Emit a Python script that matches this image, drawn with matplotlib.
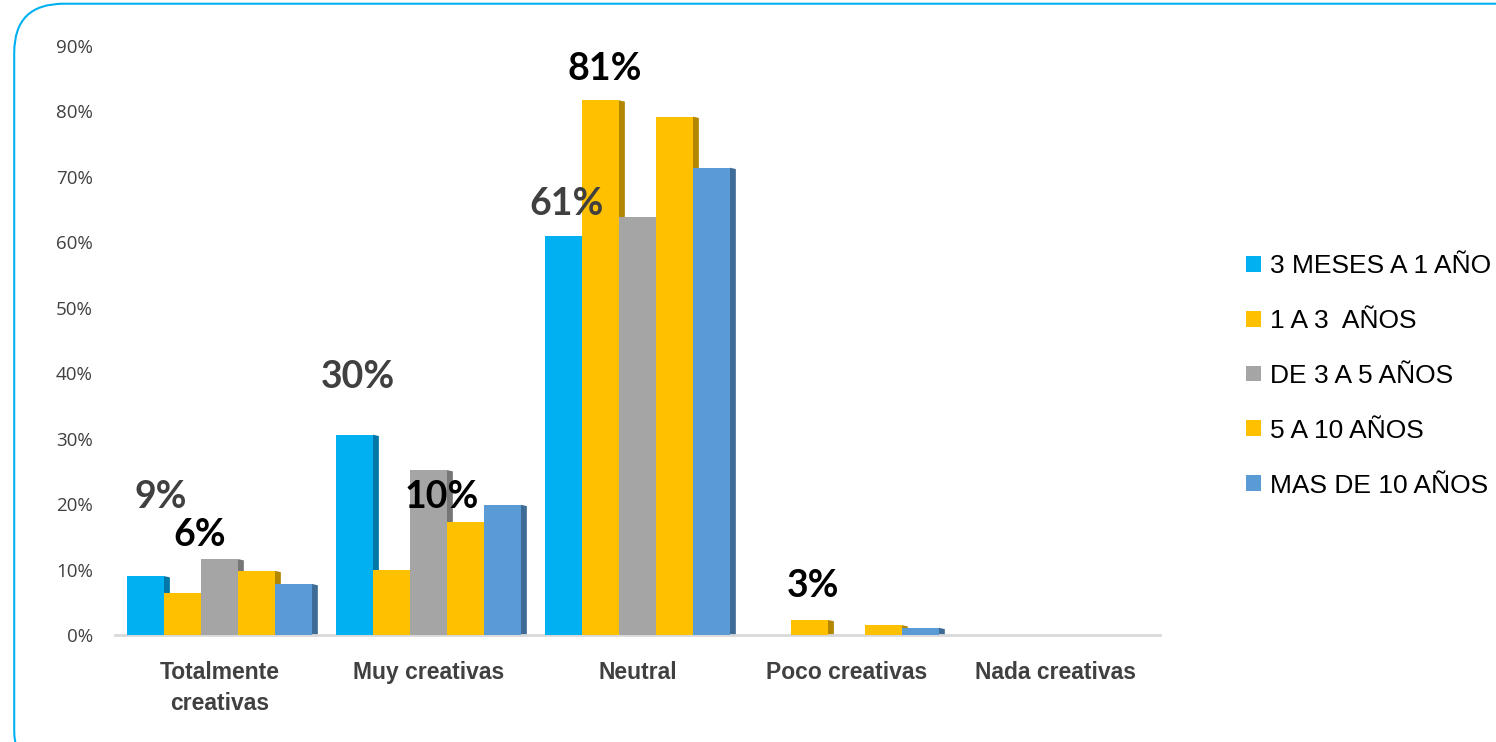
import matplotlib.pyplot as plt
from matplotlib.patches import FancyBboxPatch, Polygon
import numpy as np

# datos
categorias = ['Totalmente\ncreativas', 'Muy creativas', 'Neutral', 'Poco creativas', 'Nada creativas']
series = ['3 MESES A 1 AÑO', '1 A 3  AÑOS', 'DE 3 A 5 AÑOS', '5 A 10 AÑOS', 'MAS DE 10 AÑOS']
valores = [
    [0.090, 0.306, 0.610, 0.000, 0.000],
    [0.064, 0.099, 0.817, 0.023, 0.000],
    [0.116, 0.252, 0.638, 0.000, 0.000],
    [0.098, 0.173, 0.792, 0.015, 0.000],
    [0.078, 0.199, 0.714, 0.011, 0.000],
]
etiquetas = ['9%', '6%', '30%', '10%', '61%', '81%', '3%']
etiq_x = [-0.28, -0.095, 0.66, 1.063, 1.66, 1.842, 2.842]
etiq_y = [0.211, 0.153, 0.394, 0.211, 0.659, 0.865, 0.075]
etiq_color = ['#404040', 'black', '#404040', 'black', '#404040', 'black', 'black']

colores = ['#00B0F0', '#FFC000', '#A5A5A5', '#FFC000', '#5B9BD5']
lados = ['#0077A6', '#B38600', '#767676', '#B38600', '#3E6C97']

fig = plt.figure(figsize=(14.96, 7.42), dpi=100)

# borde redondeado
borde = FancyBboxPatch((0.0095, -0.05), 1.05, 1.045, boxstyle='round,pad=0,rounding_size=0.033',
                       transform=fig.transFigure, facecolor='none', edgecolor='#00B0F0',
                       linewidth=1.5, mutation_aspect=2.0, zorder=-5)
fig.patches.append(borde)

ax = fig.add_axes([115 / 1496, 1 - 635 / 742, 1045 / 1496, 589 / 742])
ax.set_facecolor('none')

x = np.arange(len(categorias))
ancho = 0.177
dx = 0.028   # profundidad lateral
dy = 0.002
for i, serie in enumerate(series):
    pos = x + (i - 2) * ancho
    ax.bar(pos, valores[i], ancho, color=colores[i], label=serie, zorder=3)
    for p, v in zip(pos, valores[i]):
        if v <= 0:
            continue
        r = p + ancho / 2
        ax.add_patch(Polygon([(r, 0), (r + dx, 0), (r + dx, v - dy), (r, v)],
                             closed=True, facecolor=lados[i], edgecolor='none', zorder=2))

for t, tx, ty, c in zip(etiquetas, etiq_x, etiq_y, etiq_color):
    ax.text(tx, ty, t, ha='center', va='center', fontsize=27, fontweight='bold',
            color=c, family='Lato')

ax.set_xlim(-0.5, 4.5)
ax.set_ylim(0, 0.9)
ax.set_yticks(np.arange(0, 0.91, 0.1))
ax.set_yticklabels([f'{int(round(v * 100))}%' for v in np.arange(0, 0.91, 0.1)],
                   fontsize=13.5, color='#404040', family='Open Sans')
ax.set_xticks(x)
ax.set_xticklabels(categorias, fontsize=16.5, fontweight='bold', color='#404040',
                   family='Liberation Sans', linespacing=1.45)
ax.tick_params(axis='both', length=0)
ax.tick_params(axis='y', pad=16)
ax.tick_params(axis='x', pad=19)
for s in ['top', 'right', 'left']:
    ax.spines[s].set_visible(False)
ax.spines['bottom'].set_color('#D9D9D9')
ax.spines['bottom'].set_linewidth(2)

leg = ax.legend(loc='center left', bbox_to_anchor=(1.06, 0.44), frameon=False,
                prop={'family': 'Liberation Sans', 'size': 19}, handlelength=0.55,
                handleheight=0.55, handletextpad=0.35, labelspacing=1.17)

fig.savefig('out.png', dpi=100)
